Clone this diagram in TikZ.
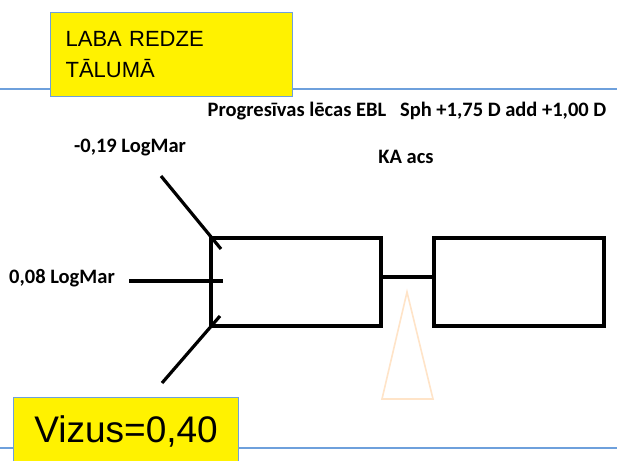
\documentclass[tikz,border=0pt]{standalone}
\usepackage{fontspec}
\setmainfont{Liberation Sans}
\newfontfamily\calibri{Carlito}
\definecolor{rulerblue}{RGB}{110,160,220}
\definecolor{peach}{RGB}{255,228,200}
\begin{document}
\begin{tikzpicture}[x=1pt,y=-1pt,line width=3.2pt,
  label/.style={font=\calibri\bfseries\fontsize{20.5}{24}\selectfont},
  yellowbox/.style={draw=rulerblue,line width=1.2pt,fill=yellow,anchor=north west},
  lensbox/.style={draw,minimum width=170pt,minimum height=88pt,inner sep=0pt}]
  \clip (0,0) rectangle (617,460);
  \fill[white] (0,0) rectangle (617,460);

  \draw[rulerblue,line width=1.5pt] (0,89) -- (617,89);
  \draw[rulerblue,line width=1.5pt] (0,448) -- (617,448);

  \node[yellowbox,minimum width=242pt,minimum height=84pt,text width=212pt,
    align=left,font=\fontsize{22}{31}\selectfont] (title) at (50,12) {LABA REDZE\\T\=ALUM\=A};
  \node[yellowbox,minimum width=225pt,text width=205pt,align=center,
    font=\fontsize{37}{40}\selectfont,text height=26pt,text depth=19pt,inner ysep=19pt]
    (vizus) at (13,397) {Vizus=0,40};

  \node[label] (lens) at (407,111) {Progres\={\i}vas l\={e}cas EBL\ \ \ Sph +1,75 D add +1,00 D};
  \node[label] (eye) at (406,157) {KA acs};
  \node[label] (far) at (130,148) {-0,19 LogMar};
  \node[label] (mid) at (62,278) {0,08 LogMar};

  \node[lensbox] (left) at (296,282) {};
  \node[lensbox] (right) at (519,282) {};
  \draw ([yshift=5pt]left.east) -- ([yshift=5pt]right.west);

  \coordinate (ua) at (161,176);
  \coordinate (ub) at (221,249);
  \coordinate (ma) at (129,281);
  \coordinate (mb) at (223,281);
  \coordinate (la) at (162,383);
  \coordinate (lb) at (220,316);
  \draw (ua) -- (ub);
  \draw (ma) -- (mb);
  \draw (la) -- (lb);

  \draw[peach,line width=1.6pt] (407,292) -- (433,399) -- (382,399) -- cycle;
\end{tikzpicture}
\end{document}
